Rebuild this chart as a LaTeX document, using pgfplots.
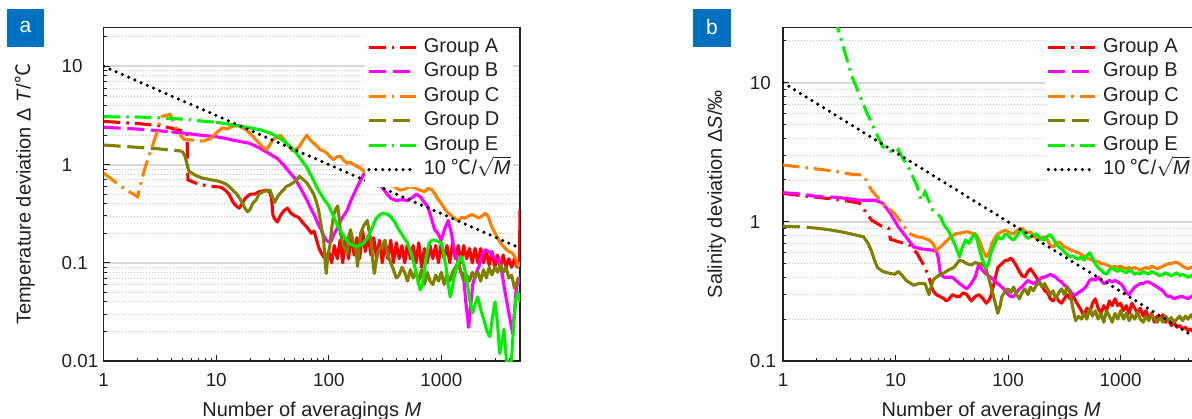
\documentclass[border=0pt]{standalone}
\usepackage{pgfplots}
\pgfplotsset{compat=1.18}
\usepackage{fontspec}
\setmainfont{Liberation Sans}
\newfontfamily\cjk{Noto Sans CJK SC}

\definecolor{cA}{RGB}{255,0,0}
\definecolor{cB}{RGB}{255,0,255}
\definecolor{cC}{RGB}{255,128,0}
\definecolor{cD}{RGB}{128,128,0}
\definecolor{cE}{RGB}{0,240,0}
\definecolor{panelblue}{RGB}{0,112,192}
\definecolor{ink}{RGB}{35,31,32}
\definecolor{gridmaj}{RGB}{215,215,215}
\definecolor{gridmin}{RGB}{195,195,195}

\tikzset{
  lnA/.style={cA, line width=1.55pt, dash pattern=on 8.3pt off 3pt on 1.3pt off 3pt},
  lnB/.style={cB, line width=1.55pt, dash pattern=on 8.5pt off 3.3pt},
  lnC/.style={cC, line width=1.55pt, dash pattern=on 8.3pt off 3pt on 1.3pt off 3pt},
  lnD/.style={cD, line width=1.55pt, dash pattern=on 8.5pt off 3.3pt},
  lnE/.style={cE, line width=1.55pt, dash pattern=on 8.3pt off 3pt on 1.3pt off 3pt},
  lnTail/.style={line width=1.55pt, solid, line join=round},
  lnSqrt/.style={black, line width=1.75pt, line cap=round, dash pattern=on 0pt off 3.4pt},
}

% left-aligned tick label in a box of fixed width
\newcommand\lt[2]{\makebox[#1][l]{#2}}

\pgfplotsset{
  legend image code/.code={\draw[#1] (0pt,0pt) -- (23.5pt,0pt);},
  every axis/.append style={
    scale only axis, width=208.15pt, height=166.85pt,
    axis line style={ink, line width=0.75pt},
    tick style={ink, line width=0.5pt},
    tick align=inside,
    major tick length=3.2pt, minor tick length=1.6pt,
    major grid style={gridmaj, line width=1pt},
    minor grid style={gridmin, line width=0.4pt, dash pattern=on 0.6pt off 0.9pt},
    tick label style={font=\fontsize{9.4}{11}\selectfont, text=ink},
    label style={font=\fontsize{10}{12}\selectfont, text=ink},
    legend style={at={(0.6275,0.993)}, anchor=north west, draw=none, fill=white,
      inner xsep=1pt, inner ysep=3.5pt, font=\fontsize{10}{12}\selectfont, text=ink,
      row sep=2.2pt, column sep=3pt,
      nodes={inner xsep=0pt, inner ysep=0pt, text height=7.6pt, text depth=2.45pt}},
  },
}
\pgfkeys{/pgf/number format/1000 sep={}, /pgf/number format/assume math mode=true}

\begin{document}
\begin{tikzpicture}
\path[use as bounding box] (0,0) rectangle (596pt,209pt);
\clip (0,0) rectangle (596pt,209pt);

% ---------------- (a) temperature ----------------
\begin{axis}[at={(51.85pt,28.5pt)}, anchor=south west,
  xmode=log, ymode=log, xmin=1, xmax=5000, ymin=0.01, ymax=25,
  xtick pos=bottom, ytick pos=left, log ticks with fixed point,
  ytick={0.01,0.1,1,10},
  minor ytick={0.02,0.03,0.04,0.05,0.06,0.07,0.08,0.09,0.2,0.3,0.4,0.5,0.6,0.7,0.8,0.9,2,3,4,5,6,7,8,9,20},
  yticklabels={\lt{17.5pt}{0.01},\lt{17.5pt}{0.1},\lt{17.5pt}{1},\lt{17.5pt}{10}},
  ymajorgrids, yminorgrids, no markers, legend cell align=left,
  xticklabel style={anchor=north, inner sep=0pt, yshift=-6.2pt},
  xlabel style={at={(axis description cs:0.5,-0.165)}, anchor=base},
  ylabel style={at={(axis description cs:-0.189,0.5)}, anchor=center},
  xlabel={Number of averagings \textit{M}},
  ylabel={Temperature deviation Δ~\textit{T}/{\cjk ℃}}]
% Group A
\addplot[lnA] coordinates {(1,2.75) (2,2.62) (3,2.5) (4,2.35) (5,2.2) (5.5,2.1) (5.6,0.7) (7,0.63) (9,0.6) (11,0.59)};
\addlegendentry{Group A}
\addplot[cA, lnTail, forget plot] coordinates {(11,0.59) (12,0.55) (13,0.5) (14,0.42) (15,0.38) (16,0.36) (17,0.4) (18,0.45) (20,0.5) (22,0.5) (24,0.53) (26,0.54) (28,0.55) (30,0.52) (31,0.45) (32,0.3) (33,0.28) (35,0.26) (37,0.3) (40,0.34) (43,0.36) (46,0.32) (50,0.3) (54,0.29) (58,0.26) (62,0.24) (66,0.22) (70,0.2) (74,0.21) (78,0.17) (82,0.14) (86,0.125) (90,0.115) (95,0.11)
 (100,0.13) (106,0.10) (112,0.15) (119,0.11) (126,0.17) (133,0.10) (141,0.18) (150,0.11) (158,0.20) (168,0.12) (178,0.18) (188,0.11) (200,0.21) (211,0.13) (224,0.19) (237,0.12) (251,0.18) (266,0.11) (282,0.17) (299,0.10) (316,0.16) (335,0.11) (355,0.17) (376,0.10) (398,0.16) (422,0.11) (447,0.15) (473,0.10) (501,0.16) (531,0.11) (562,0.15) (596,0.10) (631,0.16) (668,0.09) (708,0.14) (750,0.10) (794,0.15) (841,0.11) (891,0.15) (944,0.10) (1000,0.16) (1059,0.11) (1122,0.15) (1189,0.10) (1259,0.16) (1334,0.11) (1413,0.15) (1496,0.10) (1585,0.15) (1679,0.11) (1778,0.14) (1884,0.10) (1995,0.14) (2113,0.10) (2239,0.14) (2371,0.10) (2512,0.13) (2661,0.095) (2818,0.13) (2985,0.09) (3162,0.12) (3350,0.09) (3548,0.12) (3758,0.09) (3981,0.11) (4217,0.09) (4467,0.11) (4732,0.09) (4950,0.1) (5000,0.35)};
% Group B
\addplot[lnB] coordinates {(1,2.4) (2,2.3) (3,2.22) (4,2.15)};
\addlegendentry{Group B}
\addplot[cB, lnTail, forget plot] coordinates {(4,2.15) (5,2.1) (6,2.05) (7,2.0) (8,1.97) (10,1.92) (12,1.85) (15,1.75) (18,1.68) (20,1.64) (25,1.45) (30,1.28) (35,1.15) (40,0.98) (45,0.83) (50,0.72) (55,0.6) (60,0.5) (65,0.42) (70,0.35) (75,0.3) (80,0.25) (85,0.22) (90,0.19) (95,0.17) (100,0.163) (105,0.165) (110,0.19) (120,0.23) (130,0.28) (145,0.34) (160,0.45) (180,0.6) (200,0.76) (210,0.84) (230,0.9) (250,0.75) (300,0.58) (330,0.5) (360,0.45) (400,0.43) (450,0.44) (500,0.43) (550,0.46) (600,0.5) (650,0.47) (700,0.42) (760,0.37) (820,0.28) (870,0.22) (930,0.2) (1000,0.17) (1070,0.22) (1150,0.27) (1230,0.2) (1320,0.125) (1420,0.1) (1500,0.078) (1570,0.078) (1650,0.04) (1750,0.022) (1820,0.035) (1900,0.06) (2000,0.075) (2150,0.09) (2300,0.12) (2460,0.136) (2650,0.13) (2800,0.125) (3000,0.11) (3250,0.107) (3450,0.08) (3700,0.049) (4000,0.03) (4300,0.019) (4450,0.03) (4600,0.05) (4800,0.07) (5000,0.06)};
% Group C
\addplot[lnC] coordinates {(1,0.82) (1.3,0.65) (1.6,0.55) (2,0.47) (2.3,0.89) (2.9,1.95) (3.3,3.1) (3.9,3.24) (4.6,2.1) (5.2,1.8) (6,1.78) (7.6,1.73)};
\addlegendentry{Group C}
\addplot[cC, lnTail, forget plot] coordinates {(7.6,1.73) (9,1.85) (10,2.1) (11.4,2.37) (12.5,2.3) (14,2.46) (15.5,2.5) (17,2.37) (19,2.2) (21,1.95) (24,1.66) (26,1.5) (28,1.42) (30,1.6) (32,1.8) (35,1.9) (37,2.0) (40,1.8) (42,1.66) (45,1.5) (48,1.37) (52,1.45) (55,1.54) (60,1.8) (64,2.0) (68,1.8) (73,1.66) (78,1.55) (84,1.42) (90,1.38) (96,1.31) (103,1.2) (110,1.12) (118,1.2) (127,1.22) (136,1.1) (146,1.04) (156,1.05) (167,1.0) (180,0.95) (192,0.92) (206,0.85) (250,0.8) (300,0.7) (350,0.63) (398,0.58) (430,0.55) (470,0.56) (520,0.6) (580,0.58) (640,0.55) (710,0.53) (760,0.57) (820,0.56) (880,0.5) (940,0.44) (1000,0.4) (1080,0.35) (1160,0.32) (1240,0.3) (1330,0.28) (1420,0.27) (1520,0.29) (1630,0.285) (1750,0.3) (1880,0.31) (2000,0.3) (2150,0.285) (2300,0.3) (2460,0.32) (2600,0.3) (2800,0.235) (3000,0.2) (3250,0.17) (3500,0.15) (3700,0.14) (4000,0.13) (4300,0.125) (4600,0.11) (4800,0.092) (5000,0.1)};
% Group D
\addplot[lnD] coordinates {(1,1.58) (2,1.5) (3,1.45) (4,1.4) (5,1.37)};
\addlegendentry{Group D}
\addplot[cD, lnTail, forget plot] coordinates {(5,1.37) (5.3,1.2) (5.7,0.86) (6.5,0.78) (7.5,0.73) (9,0.7) (10.6,0.675) (12,0.64) (13,0.6) (14,0.55) (15,0.51) (16,0.46) (17,0.41) (18,0.36) (19,0.33) (20,0.35) (21,0.4) (22.7,0.44) (24,0.5) (26,0.53) (28,0.54) (30,0.55) (31,0.5) (33,0.41) (35,0.47) (37,0.51) (40,0.56) (42,0.6) (45,0.62) (48,0.65) (52,0.7) (55,0.76) (58,0.72) (64,0.65) (68,0.58) (73,0.51) (77,0.43) (81,0.35) (85,0.25) (90,0.17) (93,0.1) (95,0.078) (98,0.12) (102,0.146) (106,0.22) (110,0.3) (115,0.35) (120,0.38) (124,0.28) (127,0.2) (135,0.15) (146,0.125) (150,0.18) (156,0.217) (165,0.16) (175,0.135) (180,0.092) (186,0.14) (192,0.2) (205,0.24) (220,0.27) (230,0.2) (237,0.17) (245,0.11) (254,0.078) (262,0.1) (272,0.125) (285,0.14)
 (299,0.15) (316,0.17) (335,0.12) (355,0.10) (376,0.085) (398,0.07) (422,0.075) (447,0.09) (473,0.08) (501,0.065) (531,0.085) (562,0.07) (596,0.08) (631,0.065) (668,0.085) (708,0.06) (750,0.08) (794,0.065) (841,0.06) (891,0.075) (944,0.065) (1000,0.08) (1059,0.06) (1122,0.075) (1189,0.065) (1259,0.08) (1334,0.09) (1413,0.1) (1496,0.08) (1585,0.065) (1679,0.075) (1778,0.065) (1884,0.08) (1995,0.07) (2113,0.08) (2239,0.065) (2371,0.085) (2512,0.07) (2661,0.09) (2818,0.075) (2985,0.09) (3162,0.08) (3350,0.095) (3548,0.08) (3758,0.09) (3981,0.07) (4217,0.075) (4467,0.055) (4732,0.065) (5000,0.07)};
% Group E
\addplot[lnE] coordinates {(1,3.07) (2,3.05) (3,3.0) (4,2.95) (5,2.9) (6,2.85) (7,2.8) (8,2.75) (10,2.7)};
\addlegendentry{Group E}
\addplot[cE, lnTail, forget plot] coordinates {(10,2.7) (12,2.62) (15,2.5) (20,2.37) (25,2.25) (30,2.1) (35,1.92) (40,1.73) (45,1.55) (50,1.37) (56,1.15) (63,0.96) (70,0.77) (80,0.56) (90,0.45) (100,0.38) (110,0.3) (120,0.235) (135,0.19) (150,0.159) (165,0.15) (180,0.147) (200,0.155) (220,0.178) (240,0.22) (260,0.275) (280,0.305) (300,0.32) (325,0.315) (350,0.30) (385,0.26) (420,0.217) (460,0.185) (500,0.159) (540,0.125) (580,0.092) (620,0.065) (650,0.053) (680,0.06) (700,0.078) (740,0.12) (780,0.159) (830,0.17) (880,0.17) (940,0.165) (1000,0.159) (1050,0.125) (1100,0.092) (1150,0.06) (1200,0.045) (1250,0.055) (1300,0.072) (1400,0.1) (1500,0.116) (1600,0.09) (1700,0.062) (1800,0.04) (1900,0.031) (2000,0.038) (2100,0.045) (2250,0.033) (2400,0.026) (2550,0.02) (2700,0.0177) (2850,0.028) (3000,0.04) (3150,0.025) (3300,0.0119) (3450,0.015) (3600,0.021) (3700,0.014) (3800,0.01) (4000,0.0095) (4200,0.01) (4400,0.025) (4600,0.042) (4800,0.05) (5000,0.04)};
% reference slope 10/sqrt(M)
\addplot[lnSqrt] coordinates {(1,10) (5000,0.1414)};
\addlegendentry{10 {\cjk ℃}/$\sqrt{\textit{M}}$}
\end{axis}

% ---------------- (b) salinity ----------------
\begin{axis}[at={(391.5pt,28.5pt)}, anchor=south west,
  xmode=log, ymode=log, xmin=1, xmax=5000, ymin=0.1, ymax=25,
  xtick pos=bottom, ytick pos=left, log ticks with fixed point,
  ytick={0.1,1,10},
  minor ytick={0.2,0.3,0.4,0.5,0.6,0.7,0.8,0.9,2,3,4,5,6,7,8,9,20},
  yticklabels={\lt{13pt}{0.1},\lt{13pt}{1},\lt{13pt}{10}},
  ymajorgrids, yminorgrids, no markers, legend cell align=left,
  xticklabel style={anchor=north, inner sep=0pt, yshift=-6.2pt},
  xlabel style={at={(axis description cs:0.5,-0.165)}, anchor=base},
  ylabel style={at={(axis description cs:-0.159,0.5)}, anchor=center},
  xlabel={Number of averagings \textit{M}},
  ylabel={Salinity deviation Δ\textit{S}/‰}]
% Group A
\addplot[lnA] coordinates {(1,1.6) (2,1.5) (3,1.45) (4,1.4) (4.8,1.36) (6.1,1.03) (7.7,0.92) (8.7,0.9) (9,0.75) (10.6,0.72) (13.4,0.68) (15.6,0.59) (18.3,0.47) (19.8,0.40) (21.5,0.32)};
\addlegendentry{Group A}
\addplot[cA, lnTail, forget plot] coordinates {(21.5,0.32) (23,0.3) (25,0.29) (27,0.28) (28.3,0.27) (30,0.28) (32,0.30) (35,0.29) (37,0.29) (40,0.31) (43,0.30) (47,0.27) (51,0.29) (55,0.30) (60,0.28) (64,0.26) (67,0.27) (70,0.29) (75,0.36) (81,0.47) (88,0.5) (95,0.53)
 (100,0.53) (106,0.55) (112,0.52) (119,0.48) (126,0.44) (133,0.41) (141,0.40) (150,0.44) (158,0.46) (168,0.43) (178,0.40) (188,0.37) (200,0.35) (211,0.32) (224,0.31) (237,0.28) (251,0.27) (266,0.29) (282,0.27) (299,0.26) (316,0.28) (335,0.30) (355,0.28) (376,0.30) (398,0.27) (422,0.25) (447,0.23) (473,0.21) (501,0.24) (531,0.22) (562,0.26) (596,0.28) (631,0.24) (668,0.22) (708,0.25) (750,0.23) (794,0.27) (841,0.25) (891,0.28) (944,0.25) (1000,0.26) (1059,0.23) (1122,0.25) (1189,0.22) (1259,0.26) (1334,0.24) (1413,0.22) (1496,0.24) (1585,0.21) (1679,0.23) (1778,0.20) (1884,0.22) (1995,0.19) (2113,0.21) (2239,0.20) (2371,0.215) (2512,0.19) (2661,0.20) (2818,0.18) (2985,0.19) (3162,0.175) (3350,0.18) (3548,0.17) (3758,0.175) (3981,0.165) (4217,0.17) (4467,0.16) (4732,0.165) (5000,0.155)};
% Group B
\addplot[lnB] coordinates {(1,1.62) (1.5,1.58) (2,1.52) (3,1.5)};
\addlegendentry{Group B}
\addplot[cB, lnTail, forget plot] coordinates {(3,1.5) (4,1.46) (4.8,1.43) (5.5,1.43) (6.6,1.43) (7.7,1.36) (9,1.15) (10.6,0.92) (12.4,0.78) (14.5,0.66) (16.9,0.64) (19.8,0.63) (23,0.62) (24,0.55) (25,0.42) (27,0.40) (32,0.40) (37,0.36) (43,0.33) (47,0.36) (51,0.40) (55,0.50) (59,0.45) (64,0.42) (70,0.40) (75,0.38) (81,0.36) (88,0.34) (95,0.32)
 (100,0.30) (106,0.29) (112,0.29) (119,0.31) (126,0.33) (133,0.34) (141,0.36) (150,0.38) (158,0.37) (168,0.36) (178,0.37) (188,0.38) (200,0.40) (211,0.40) (224,0.41) (237,0.42) (251,0.41) (266,0.40) (282,0.38) (299,0.37) (316,0.35) (335,0.34) (355,0.32) (376,0.30) (398,0.30) (422,0.31) (447,0.32) (473,0.33) (501,0.35) (531,0.38) (562,0.39) (596,0.38) (631,0.40) (668,0.38) (708,0.36) (750,0.37) (794,0.38) (841,0.37) (891,0.38) (944,0.37) (1000,0.36) (1059,0.34) (1122,0.31) (1189,0.30) (1259,0.32) (1334,0.34) (1413,0.35) (1496,0.36) (1585,0.36) (1679,0.37) (1778,0.37) (1884,0.36) (1995,0.35) (2113,0.34) (2239,0.33) (2371,0.32) (2512,0.30) (2661,0.29) (2818,0.29) (2985,0.28) (3162,0.285) (3350,0.29) (3548,0.29) (3758,0.285) (3981,0.28) (4217,0.29) (4467,0.29) (4732,0.285) (5000,0.29)};
% Group C
\addplot[lnC] coordinates {(1,2.56) (2,2.4) (3,2.3) (4,2.2) (5.2,2.17) (6.1,1.69) (7.7,1.36) (9.8,1.15) (11.4,0.97) (13.4,0.82)};
\addlegendentry{Group C}
\addplot[cC, lnTail, forget plot] coordinates {(13.4,0.82) (15.6,0.78) (17.5,0.77) (19.8,0.74) (21.5,0.7) (23,0.62) (25,0.66) (27,0.70) (30,0.76) (34,0.82) (38,0.83) (43,0.85) (47,0.83) (51,0.82) (54,0.77) (57,0.70) (60,0.62) (64,0.56) (68,0.6) (72,0.70) (76,0.76) (81,0.82) (88,0.85) (95,0.87)
 (100,0.85) (106,0.83) (112,0.82) (119,0.86) (126,0.89) (133,0.90) (141,0.86) (150,0.83) (158,0.85) (168,0.80) (178,0.76) (188,0.74) (200,0.77) (211,0.78) (224,0.74) (237,0.68) (251,0.66) (266,0.69) (282,0.72) (299,0.69) (316,0.66) (335,0.65) (355,0.63) (376,0.62) (398,0.61) (422,0.60) (447,0.58) (473,0.57) (501,0.55) (531,0.54) (562,0.53) (596,0.52) (631,0.52) (668,0.50) (708,0.50) (750,0.49) (794,0.48) (841,0.47) (891,0.48) (944,0.47) (1000,0.48) (1059,0.47) (1122,0.46) (1189,0.47) (1259,0.46) (1334,0.47) (1413,0.46) (1496,0.45) (1585,0.46) (1679,0.47) (1778,0.46) (1884,0.48) (1995,0.47) (2113,0.46) (2239,0.47) (2371,0.48) (2512,0.49) (2661,0.50) (2818,0.50) (2985,0.51) (3162,0.51) (3350,0.50) (3548,0.48) (3758,0.47) (3981,0.46) (4217,0.47) (4467,0.48) (4732,0.50) (5000,0.49)};
% Group D
\addplot[lnD] coordinates {(1,0.93) (1.5,0.92) (2,0.9)};
\addlegendentry{Group D}
\addplot[cD, lnTail, forget plot] coordinates {(2,0.9) (2.5,0.88) (3.25,0.85) (4,0.82) (5.2,0.78) (5.7,0.7) (6.1,0.62) (6.5,0.53) (6.9,0.47) (7.7,0.44) (8.5,0.43) (9.8,0.42) (10.6,0.44) (11.5,0.41) (12.4,0.38) (14.5,0.35) (16,0.36) (18.3,0.36) (19.8,0.30) (21.5,0.38) (23,0.40) (25,0.42) (27,0.43) (29.4,0.45) (33,0.47) (37,0.53) (40,0.52) (43,0.50) (47,0.49) (51,0.51) (55,0.50) (59,0.50) (63,0.47) (67,0.40) (72,0.32) (77,0.26) (81,0.22) (85,0.25) (88,0.29) (95,0.32)
 (100,0.33) (106,0.31) (112,0.34) (119,0.30) (126,0.28) (133,0.31) (141,0.33) (150,0.30) (158,0.34) (168,0.32) (178,0.35) (188,0.37) (200,0.34) (211,0.36) (224,0.33) (237,0.30) (251,0.32) (266,0.28) (282,0.31) (299,0.33) (316,0.30) (335,0.34) (355,0.31) (376,0.24) (398,0.195) (422,0.21) (447,0.20) (473,0.22) (501,0.20) (531,0.24) (562,0.21) (596,0.23) (631,0.20) (668,0.22) (708,0.19) (750,0.23) (794,0.21) (841,0.19) (891,0.22) (944,0.20) (1000,0.23) (1059,0.20) (1122,0.22) (1189,0.195) (1259,0.215) (1334,0.20) (1413,0.225) (1496,0.20) (1585,0.19) (1679,0.21) (1778,0.195) (1884,0.215) (1995,0.20) (2113,0.19) (2239,0.205) (2371,0.19) (2512,0.21) (2661,0.195) (2818,0.205) (2985,0.19) (3162,0.20) (3350,0.21) (3548,0.195) (3758,0.21) (3981,0.20) (4217,0.215) (4467,0.20) (4732,0.21) (5000,0.205)};
% Group E
\addplot[lnE] coordinates {(2.9,30) (3.1,24) (4.1,11.1) (5.6,6.0) (7.7,3.47) (9.8,3.1) (10.6,3.3) (11.4,2.94) (13.4,2.36) (15.6,1.79) (16.9,1.43) (18.3,1.64) (21.5,1.21) (25,1.09)};
\addlegendentry{Group E}
\addplot[cE, lnTail, forget plot] coordinates {(25,1.09) (27,0.95) (29.4,0.87) (32,0.75) (34.4,0.66) (37,0.56) (39,0.65) (42,0.74) (45,0.7) (48,0.78) (51,0.82) (54,0.7) (57,0.59) (60,0.52) (64,0.47) (67,0.5) (70,0.59) (75,0.68) (81,0.78) (88,0.75) (95,0.82)
 (100,0.80) (106,0.76) (112,0.74) (119,0.79) (126,0.85) (133,0.87) (141,0.80) (150,0.76) (158,0.78) (168,0.81) (178,0.82) (188,0.78) (200,0.75) (211,0.74) (224,0.79) (237,0.81) (251,0.76) (266,0.70) (282,0.66) (299,0.64) (316,0.61) (335,0.58) (355,0.56) (376,0.57) (398,0.55) (422,0.54) (447,0.56) (473,0.53) (501,0.57) (531,0.60) (562,0.55) (596,0.50) (631,0.47) (668,0.45) (708,0.43) (750,0.42) (794,0.45) (841,0.47) (891,0.45) (944,0.44) (1000,0.46) (1059,0.44) (1122,0.43) (1189,0.45) (1259,0.44) (1334,0.42) (1413,0.43) (1496,0.42) (1585,0.44) (1679,0.43) (1778,0.42) (1884,0.44) (1995,0.43) (2113,0.42) (2239,0.41) (2371,0.42) (2512,0.43) (2661,0.42) (2818,0.41) (2985,0.42) (3162,0.43) (3350,0.41) (3548,0.42) (3758,0.41) (3981,0.40) (4217,0.41) (4467,0.42) (4732,0.41) (5000,0.40)};
% reference slope 10/sqrt(M)
\addplot[lnSqrt] coordinates {(1,10) (5000,0.1414)};
\addlegendentry{10 {\cjk ℃}/$\sqrt{\textit{M}}$}
\end{axis}

% panel tags
\fill[panelblue] (3.5pt,185.5pt) rectangle (22pt,204.5pt);
\node[text=white, font=\fontsize{10.5}{12}\selectfont] at (12.75pt,195.5pt) {a};
\fill[panelblue] (346.5pt,185.5pt) rectangle (365.5pt,204.5pt);
\node[text=white, font=\fontsize{10.5}{12}\selectfont] at (356pt,195.5pt) {b};
\end{tikzpicture}
\end{document}
